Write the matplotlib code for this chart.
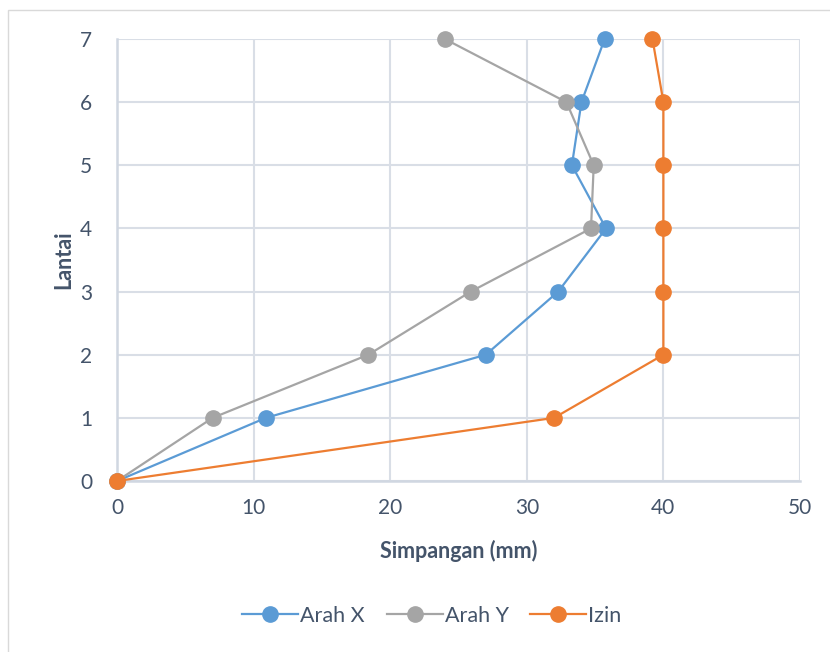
import matplotlib
matplotlib.use("Agg")
import matplotlib.pyplot as plt
from matplotlib.patches import Rectangle

plt.rcParams['font.family'] = ['Lato', 'DejaVu Sans']

# Storey levels and lateral drift (mm)
lantai = [0, 1, 2, 3, 4, 5, 6, 7]
arah_x = [0, 10.9, 27.0, 32.3, 35.8, 33.3, 34.0, 35.7]
arah_y = [0, 7.0, 18.4, 25.9, 34.7, 34.9, 32.9, 24.0]
izin = [0, 32.0, 40.0, 40.0, 40.0, 40.0, 40.0, 39.2]

x_ticks = [0, 10, 20, 30, 40, 50]
y_ticks = [0, 1, 2, 3, 4, 5, 6, 7]

text_col = '#44546A'
grid_col = '#D9DEE6'

fig = plt.figure(figsize=(8.3, 6.52), dpi=100)
fig.patch.set_facecolor('white')

# chart frame
fig.patches.append(Rectangle((8 / 830, -0.1), 1.2, 1 - 10 / 652 + 0.1,
                             transform=fig.transFigure, fill=False,
                             edgecolor='#D9D9D9', linewidth=1.0))

ax = fig.add_axes([117 / 830, 1 - 481 / 652, (800 - 117) / 830, (481 - 39) / 652])

series = [
    (arah_x, 'Arah X', '#5B9BD5'),
    (arah_y, 'Arah Y', '#A5A5A5'),
    (izin, 'Izin', '#ED7D31'),
]
for vals, name, col in series:
    ax.plot(vals, lantai, color=col, linewidth=1.6, marker='o',
            markersize=11, markeredgecolor=col, markerfacecolor=col,
            label=name, clip_on=False, zorder=3)

ax.set_xlim(0, 50)
ax.set_ylim(0, 7)
ax.set_xticks(x_ticks)
ax.set_yticks(y_ticks)
ax.grid(True, color=grid_col, linewidth=1.5, zorder=0)
ax.set_axisbelow(True)

for s in ['top', 'right']:
    ax.spines[s].set_visible(False)
for s in ['left', 'bottom']:
    ax.spines[s].set_color('#D0D7E1')
    ax.spines[s].set_linewidth(1.8)

ax.tick_params(axis='both', length=0, labelsize=15, labelcolor=text_col)
ax.tick_params(axis='x', pad=12)
ax.tick_params(axis='y', pad=18)

ax.set_xlabel('Simpangan (mm)', fontsize=15.5, fontweight='bold',
              color=text_col, labelpad=16)
ax.set_ylabel('Lantai', fontsize=15.5, fontweight='bold',
              color=text_col, labelpad=4)

fig.legend(loc='center', bbox_to_anchor=(432 / 830, 1 - 616 / 652), ncol=3,
           frameon=False, fontsize=15.5, labelcolor=text_col,
           handlelength=2.6, handletextpad=0.1, columnspacing=1.0)

fig.savefig('out.png', dpi=100, facecolor='white')
